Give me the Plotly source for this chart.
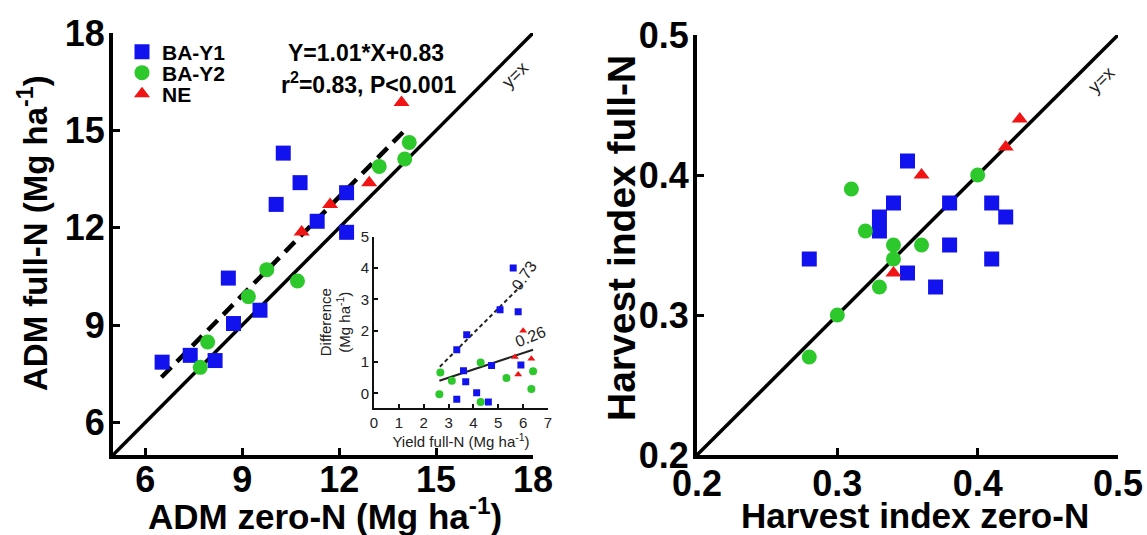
import plotly.graph_objects as go

# ---------------- data: left panel (ADM) ----------------
adm_y1_zero = [6.52, 7.39, 8.16, 8.57, 8.73, 9.55, 10.05, 10.27, 10.79, 11.32, 12.23, 12.23]
adm_y1_full = [7.86, 8.07, 7.91, 10.45, 9.05, 9.46, 12.72, 14.30, 13.39, 12.20, 13.08, 11.86]
adm_y2_zero = [7.70, 7.93, 9.19, 9.76, 10.71, 13.24, 14.03, 14.17]
adm_y2_full = [7.70, 8.48, 9.88, 10.71, 10.36, 13.89, 14.12, 14.63]
adm_ne_zero = [10.84, 11.72, 12.93, 13.93]
adm_ne_full = [11.87, 12.72, 13.39, 15.86]
fit_slope = 1.01
fit_intercept = 0.83
fit_x = [6.5, 14.1]
identity_left = [5, 18]

# ---------------- data: inset (difference vs yield) ----------------
ins_y1_x = [3.33, 3.73, 3.60, 3.69, 3.33, 4.13, 4.60, 4.73, 5.07, 5.60, 5.80, 5.91]
ins_y1_y = [1.39, 1.87, 0.72, 0.37, -0.19, 0.02, -0.28, 0.89, 2.67, 4.00, 2.60, 0.90]
ins_y2_x = [2.67, 2.63, 3.13, 4.29, 4.29, 5.33, 6.40, 6.33]
ins_y2_y = [0.66, -0.03, 0.40, 0.98, -0.28, 0.49, 0.70, 0.14]
ins_ne_x = [5.67, 6.00, 5.80, 6.33]
ins_ne_y = [1.16, 2.00, 0.60, 1.10]
ins_dash_x = [2.65, 6.0]
ins_dash_y = [0.85, 3.50]
ins_solid_x = [2.63, 6.40]
ins_solid_y = [0.40, 1.39]

# ---------------- data: right panel (harvest index) ----------------
hi_y1_zero = [0.28, 0.35, 0.34, 0.33, 0.33, 0.35, 0.38, 0.38, 0.37, 0.41, 0.42, 0.41]
hi_y1_full = [0.34, 0.41, 0.38, 0.37, 0.36, 0.33, 0.38, 0.35, 0.32, 0.38, 0.37, 0.34]
hi_y2_zero = [0.28, 0.30, 0.31, 0.32, 0.33, 0.34, 0.34, 0.36, 0.40]
hi_y2_full = [0.27, 0.30, 0.39, 0.36, 0.32, 0.35, 0.34, 0.35, 0.40]
hi_ne_zero = [0.34, 0.36, 0.42, 0.43]
hi_ne_full = [0.33, 0.40, 0.42, 0.44]
identity_right = [0.2, 0.5]

left_ticks = [6, 9, 12, 15, 18]
right_ticks = [0.2, 0.3, 0.4, 0.5]
right_ticklabels = ["0.2", "0.3", "0.4", "0.5"]

BLUE = "#1212ee"
GREEN = "#2cc82c"
RED = "#f01414"
FONT = "Liberation Sans, Arial, sans-serif"

W, H = 1147, 535


def px_x(p):
    return p / W


def px_y(p):
    return 1 - p / H


fig = go.Figure()

# identity lines
fig.add_trace(go.Scatter(x=identity_left, y=identity_left, mode="lines",
                         line=dict(color="black", width=3.5), showlegend=False,
                         xaxis="x", yaxis="y", hoverinfo="skip"))
fig.add_trace(go.Scatter(x=identity_right, y=identity_right, mode="lines",
                         line=dict(color="black", width=3.5), showlegend=False,
                         xaxis="x2", yaxis="y2", hoverinfo="skip"))

# regression line (dashed)
fit_y = [fit_slope * v + fit_intercept for v in fit_x]
fig.add_trace(go.Scatter(x=fit_x, y=fit_y, mode="lines",
                         line=dict(color="black", width=4.5, dash="14px,8px"),
                         showlegend=False, xaxis="x", yaxis="y", hoverinfo="skip"))

# left panel points
fig.add_trace(go.Scatter(x=adm_y1_zero, y=adm_y1_full, mode="markers", name="BA-Y1",
                         marker=dict(symbol="square", size=15, color=BLUE),
                         legend="legend", xaxis="x", yaxis="y"))
fig.add_trace(go.Scatter(x=adm_y2_zero, y=adm_y2_full, mode="markers", name="BA-Y2",
                         marker=dict(symbol="circle", size=15, color=GREEN),
                         legend="legend2", xaxis="x", yaxis="y"))
fig.add_trace(go.Scatter(x=adm_ne_zero, y=adm_ne_full, mode="markers", name="NE",
                         marker=dict(symbol="triangle-up", size=14, color=RED),
                         legend="legend3", xaxis="x", yaxis="y"))

# inset
fig.add_trace(go.Scatter(x=ins_dash_x, y=ins_dash_y, mode="lines",
                         line=dict(color="#222", width=2, dash="4px,3px"),
                         showlegend=False, xaxis="x3", yaxis="y3", hoverinfo="skip"))
fig.add_trace(go.Scatter(x=ins_solid_x, y=ins_solid_y, mode="lines",
                         line=dict(color="#222", width=2),
                         showlegend=False, xaxis="x3", yaxis="y3", hoverinfo="skip"))
fig.add_trace(go.Scatter(x=ins_y1_x, y=ins_y1_y, mode="markers",
                         marker=dict(symbol="square", size=7, color=BLUE),
                         showlegend=False, xaxis="x3", yaxis="y3"))
fig.add_trace(go.Scatter(x=ins_y2_x, y=ins_y2_y, mode="markers",
                         marker=dict(symbol="circle", size=8, color=GREEN),
                         showlegend=False, xaxis="x3", yaxis="y3"))
fig.add_trace(go.Scatter(x=ins_ne_x, y=ins_ne_y, mode="markers",
                         marker=dict(symbol="triangle-up", size=7, color=RED),
                         showlegend=False, xaxis="x3", yaxis="y3"))

# right panel points
fig.add_trace(go.Scatter(x=hi_y1_zero, y=hi_y1_full, mode="markers", name="BA-Y1",
                         marker=dict(symbol="square", size=15, color=BLUE),
                         showlegend=False, xaxis="x2", yaxis="y2"))
fig.add_trace(go.Scatter(x=hi_y2_zero, y=hi_y2_full, mode="markers", name="BA-Y2",
                         marker=dict(symbol="circle", size=15, color=GREEN),
                         showlegend=False, xaxis="x2", yaxis="y2"))
fig.add_trace(go.Scatter(x=hi_ne_zero, y=hi_ne_full, mode="markers", name="NE",
                         marker=dict(symbol="triangle-up", size=14, color=RED),
                         showlegend=False, xaxis="x2", yaxis="y2"))

big_tick = dict(family=FONT, size=36, color="black", weight="bold")
axis_common = dict(showline=True, linewidth=4, linecolor="black", ticks="inside",
                   ticklen=7, tickwidth=3, tickcolor="black", showgrid=False,
                   zeroline=False, mirror=False, tickfont=big_tick, automargin=False)
inset_font = dict(family=FONT, size=15, color="#222")
inset_common = dict(showline=True, linewidth=2, linecolor="#111", ticks="inside",
                    ticklen=4, tickwidth=1.5, tickcolor="#111", showgrid=False,
                    zeroline=False, mirror=False, automargin=False, tickfont=inset_font)

L_x0, L_x1, L_yt, L_yb = 113, 533, 33, 455
R_x0, R_x1, R_yt, R_yb = 697, 1118, 35, 455
I_x0, I_x1, I_yt, I_yb = 374, 548, 236.7, 407.7

legend_common = dict(font=dict(family=FONT, size=21, color="black", weight="bold"),
                     bgcolor="rgba(0,0,0,0)", xanchor="left", yanchor="middle",
                     x=px_x(122), itemwidth=30, tracegroupgap=0)


def title_ann(text, xp, yp, size, angle=0):
    return dict(text="<b>" + text + "</b>", x=px_x(xp), y=px_y(yp), xref="paper", yref="paper",
                showarrow=False, xanchor="center", yanchor="middle", textangle=angle,
                font=dict(family=FONT, size=size, color="black"))


fig.update_layout(
    width=W, height=H, margin=dict(l=0, r=0, t=0, b=0, autoexpand=False),
    paper_bgcolor="white", plot_bgcolor="rgba(0,0,0,0)",
    font=dict(family=FONT),
    xaxis=dict(axis_common, domain=[px_x(L_x0), px_x(L_x1)], range=[5, 18],
               tickvals=left_ticks, anchor="y", ticklabelstandoff=-10),
    yaxis=dict(axis_common, domain=[px_y(L_yb), px_y(L_yt)], range=[5, 18],
               tickvals=left_ticks, anchor="x", ticklabelstandoff=-3),
    xaxis2=dict(axis_common, domain=[px_x(R_x0), px_x(R_x1)], range=[0.2, 0.5],
                tickvals=right_ticks, ticktext=right_ticklabels, anchor="y2",
                ticklabelstandoff=-6),
    yaxis2=dict(axis_common, domain=[px_y(R_yb), px_y(R_yt)], range=[0.2, 0.5],
                tickvals=right_ticks, ticktext=right_ticklabels, anchor="x2",
                ticklabelstandoff=-3),
    xaxis3=dict(inset_common, domain=[px_x(I_x0), px_x(I_x1)], range=[0, 7],
                dtick=1, anchor="y3",
                title=dict(text="Yield full-N (Mg ha<sup>-1</sup>)", font=inset_font, standoff=1)),
    yaxis3=dict(inset_common, domain=[px_y(I_yb), px_y(I_yt)], range=[-0.46, 5],
                tickvals=[0, 1, 2, 3, 4, 5], anchor="x3",
                title=dict(text="Difference<br>(Mg ha<sup>-1</sup>)", font=inset_font, standoff=6)),
    legend=dict(legend_common, y=px_y(52)),
    legend2=dict(legend_common, y=px_y(73)),
    legend3=dict(legend_common, y=px_y(94)),
    annotations=[
        title_ann("ADM zero-N (Mg ha<sup>-1</sup>)", 325, 514, 35),
        title_ann("ADM full-N (Mg ha<sup>-1</sup>)", 33, 233, 33, -90),
        title_ann("Harvest index zero-N", 915, 515, 35),
        title_ann("Harvest index full-N", 621, 238, 39, -90),
        dict(text="<b>Y=1.01*X+0.83</b>", x=px_x(366), y=px_y(53), xref="paper", yref="paper",
             showarrow=False, xanchor="center", yanchor="middle",
             font=dict(family=FONT, size=23, color="black")),
        dict(text="<b>r<sup>2</sup>=0.83, P&lt;0.001</b>", x=px_x(368), y=px_y(83),
             xref="paper", yref="paper", showarrow=False, xanchor="center", yanchor="middle",
             font=dict(family=FONT, size=23, color="black")),
        dict(text="y=x", x=17.45, y=16.7, xref="x", yref="y", showarrow=False,
             textangle=-45, font=dict(family=FONT, size=18, color="#222")),
        dict(text="y=x", x=0.488, y=0.468, xref="x2", yref="y2", showarrow=False,
             textangle=-45, font=dict(family=FONT, size=18, color="#222")),
        dict(text="0.73", x=6.05, y=3.75, xref="x3", yref="y3", showarrow=False,
             textangle=-55, font=dict(family=FONT, size=16, color="#222")),
        dict(text="0.26", x=6.3, y=1.8, xref="x3", yref="y3", showarrow=False,
             textangle=-22, font=dict(family=FONT, size=16, color="#222")),
    ],
)

fig.write_html("out.html")
